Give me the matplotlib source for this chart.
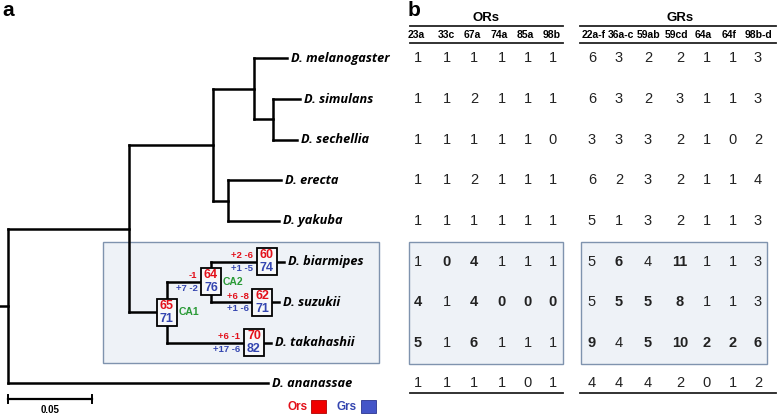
import matplotlib
matplotlib.use("Agg")
import matplotlib.pyplot as plt
from matplotlib.patches import Rectangle

# ---- data ----
species = ["D. melanogaster", "D. simulans", "D. sechellia", "D. erecta", "D. yakuba",
           "D. biarmipes", "D. suzukii", "D. takahashii", "D. ananassae"]

# tree: (name, branch length, children)
tree = ("root", 0.0, [
    ("", 0.0720, [
        ("", 0.0500, [
            ("", 0.0244, [("D. melanogaster", 0.0196, []),
                          ("", 0.0113, [("D. simulans", 0.0161, []),
                                        ("D. sechellia", 0.0143, [])])]),
            ("", 0.0089, [("D. erecta", 0.0315, []),
                          ("D. yakuba", 0.0304, [])])]),
        ("CA1", 0.0226, [
            ("CA2", 0.0262, [("D. biarmipes", 0.0333, []),
                             ("D. suzukii", 0.0304, [])]),
            ("D. takahashii", 0.0518, [])])]),
    ("D. ananassae", 0.1548, [])])

# total Or / Gr counts at the boxed nodes
node_ors = {"CA1": 65, "CA2": 64, "D. biarmipes": 60, "D. suzukii": 62, "D. takahashii": 70}
node_grs = {"CA1": 71, "CA2": 76, "D. biarmipes": 74, "D. suzukii": 71, "D. takahashii": 82}
# gains / losses on the branch leading to each node
branch_or = {"CA2": "-1", "D. biarmipes": "+2 -6", "D. suzukii": "+6 -8", "D. takahashii": "+6 -1"}
branch_gr = {"CA2": "+7 -2", "D. biarmipes": "+1 -5", "D. suzukii": "+1 -6", "D. takahashii": "+17 -6"}

or_cols = ["23a", "33c", "67a", "74a", "85a", "98b"]
gr_cols = ["22a-f", "36a-c", "59ab", "59cd", "64a", "64f", "98b-d"]
or_counts = [
    [1, 1, 1, 1, 1, 1],
    [1, 1, 2, 1, 1, 1],
    [1, 1, 1, 1, 1, 0],
    [1, 1, 2, 1, 1, 1],
    [1, 1, 1, 1, 1, 1],
    [1, 0, 4, 1, 1, 1],
    [4, 1, 4, 0, 0, 0],
    [5, 1, 6, 1, 1, 1],
    [1, 1, 1, 1, 0, 1]]
gr_counts = [
    [6, 3, 2, 2, 1, 1, 3],
    [6, 3, 2, 3, 1, 1, 3],
    [3, 3, 3, 2, 1, 0, 2],
    [6, 2, 3, 2, 1, 1, 4],
    [5, 1, 3, 2, 1, 1, 3],
    [5, 6, 4, 11, 1, 1, 3],
    [5, 5, 5, 8, 1, 1, 3],
    [9, 4, 5, 10, 2, 2, 6],
    [4, 4, 4, 2, 0, 1, 2]]
# counts printed in bold (changed relative to the melanogaster subgroup)
or_bold = [[0] * 6] * 5 + [[0, 1, 1, 0, 0, 0], [1, 0, 1, 1, 1, 1], [1, 0, 1, 0, 0, 0]] + [[0] * 6]
gr_bold = [[0] * 7] * 5 + [[0, 1, 0, 1, 0, 0, 0], [0, 1, 1, 1, 0, 0, 0], [1, 0, 1, 1, 1, 1, 1]] + [[0] * 7]

scale_len = 0.05

# ---- layout ----
RED = "#e3101a"
BLUE = "#3546b0"
GREEN = "#2a9a36"
BOXEDGE = "#7f93ae"
BOXFILL = "#eef2f7"
sp_font = ["Open Sans", "DejaVu Sans"]
tab_font = "Liberation Sans"

x0 = 8
px_per_unit = 84 / scale_len
row_y = [58.5 + i * 40.6 for i in range(len(species))]

fig = plt.figure(figsize=(7.78, 4.15), dpi=100)
ax = fig.add_axes([0, 0, 1, 1])
ax.set_xlim(0, 778)
ax.set_ylim(415, 0)
ax.axis("off")

# shaded boxes
ax.add_patch(Rectangle((103, 242), 276, 121, fc=BOXFILL, ec=BOXEDGE, lw=1.0, zorder=0))
ax.add_patch(Rectangle((409, 242), 154, 122, fc=BOXFILL, ec=BOXEDGE, lw=1.0, zorder=0))
ax.add_patch(Rectangle((581, 242), 186, 122, fc=BOXFILL, ec=BOXEDGE, lw=1.0, zorder=0))

# ---- tree layout ----
pos = {}


def layout(node, depth):
    name, bl, kids = node
    d = depth + bl
    x = x0 + d * px_per_unit
    if not kids:
        y = row_y[species.index(name)]
    else:
        ys = [layout(k, d)[1] for k in kids]
        y = (ys[0] + ys[-1]) / 2
    pos[id(node)] = (x, y)
    return x, y


layout(tree, 0)
tlw = 1.8
bw, bh = 20, 27


def draw(node):
    name, bl, kids = node
    x, y = pos[id(node)]
    if kids:
        ys = [pos[id(k)][1] for k in kids]
        ax.plot([x, x], [ys[0], ys[-1]], color="black", lw=tlw, solid_capstyle="projecting", zorder=2)
        for k in kids:
            kx, ky = pos[id(k)]
            ax.plot([x, kx], [ky, ky], color="black", lw=tlw, solid_capstyle="projecting", zorder=2)
            draw(k)
    boxed = name in node_ors
    if boxed:
        ax.add_patch(Rectangle((x - bw / 2, y - bh / 2), bw, bh, fc="#f7f8fa", ec="black", lw=1.3, zorder=4))
        ax.text(x, y - 6.5, str(node_ors[name]), color=RED, fontsize=9, fontweight="bold",
                family=tab_font, ha="center", va="center", zorder=5)
        ax.text(x, y + 6.5, str(node_grs[name]), color=BLUE, fontsize=9, fontweight="bold",
                family=tab_font, ha="center", va="center", zorder=5)
        if name in branch_or:
            ax.text(x - bw / 2 - 3.5, y - 6, branch_or[name], color=RED, fontsize=6.8, fontweight="bold",
                    family=tab_font, ha="right", va="center", zorder=5)
            ax.text(x - bw / 2 - 3.5, y + 6.5, branch_gr[name], color=BLUE, fontsize=6.8, fontweight="bold",
                    family=tab_font, ha="right", va="center", zorder=5)
        if kids:
            ax.text(x + bw / 2 + 2, y, name, color=GREEN, fontsize=7.5, fontweight="bold",
                    family=tab_font, ha="left", va="center", zorder=5)
    if not kids:
        lx = x
        if boxed:
            ax.plot([x + bw / 2, x + bw / 2 + 7], [y, y], color="black", lw=tlw, zorder=2)
            lx = x + bw / 2 + 7
        ax.text(lx + 4, y, name, fontsize=9.2, fontweight="bold", style="italic",
                family=sp_font, ha="left", va="center")


draw(tree)
rx, ry = pos[id(tree)]
ax.plot([0, rx], [ry, ry], color="black", lw=tlw, zorder=2)

# scale bar
sx1 = x0 + scale_len * px_per_unit
ax.plot([x0, sx1], [399, 399], color="black", lw=1.6)
ax.plot([x0, x0], [395, 403], color="black", lw=1.4)
ax.plot([sx1, sx1], [395, 403], color="black", lw=1.4)
ax.text((x0 + sx1) / 2, 410, "%.2f" % scale_len, fontsize=7, fontweight="bold",
        family=tab_font, ha="center", va="center")

# legend
ax.text(308, 407, "Ors", color=RED, fontsize=8.5, fontweight="bold", family=tab_font, ha="right", va="center")
ax.add_patch(Rectangle((311, 400), 15, 13, fc="#f00000", ec="#b00000", lw=0.6))
ax.text(357, 407, "Grs", color=BLUE, fontsize=8.5, fontweight="bold", family=tab_font, ha="right", va="center")
ax.add_patch(Rectangle((361, 400), 15, 13, fc="#4455c8", ec="#2a3590", lw=0.6))

# panel letters
ax.text(2, 11, "a", fontsize=15, fontweight="bold", family=tab_font, ha="left", va="center")
ax.text(408, 11, "b", fontsize=15, fontweight="bold", family=tab_font, ha="left", va="center")

# ---- table ----
or_hx = [416, 446, 472, 499, 525, 552]
or_dx = [418, 447, 474, 502, 528, 553]
gr_hx = [594, 621, 649, 677, 703, 729, 759]
gr_dx = [592, 619, 648, 680, 707, 733, 758]

ax.text(486, 18, "ORs", fontsize=9.5, fontweight="bold", family=tab_font, ha="center", va="center")
ax.text(680, 18, "GRs", fontsize=9.5, fontweight="bold", family=tab_font, ha="center", va="center")
for x1, x2 in [(410, 563), (580, 776)]:
    for yy in (26, 43, 393):
        ax.plot([x1, x2], [yy, yy], color="#222222", lw=1.3)

for hx, lab in zip(or_hx, or_cols):
    ax.text(hx, 35, lab, fontsize=7.5, fontweight="bold", family=tab_font, ha="center", va="center")
for hx, lab in zip(gr_hx, gr_cols):
    ax.text(hx, 35, lab, fontsize=7.5, fontweight="bold", family=tab_font, ha="center", va="center")

for i, y in enumerate(row_y):
    for j, v in enumerate(or_counts[i]):
        ax.text(or_dx[j], y, str(v), fontsize=10.5, family=tab_font, color="#222222",
                fontweight="bold" if or_bold[i][j] else "normal", ha="center", va="center")
    for j, v in enumerate(gr_counts[i]):
        ax.text(gr_dx[j], y, str(v), fontsize=10.5, family=tab_font, color="#222222",
                fontweight="bold" if gr_bold[i][j] else "normal", ha="center", va="center")

fig.savefig("out.png", dpi=100)
